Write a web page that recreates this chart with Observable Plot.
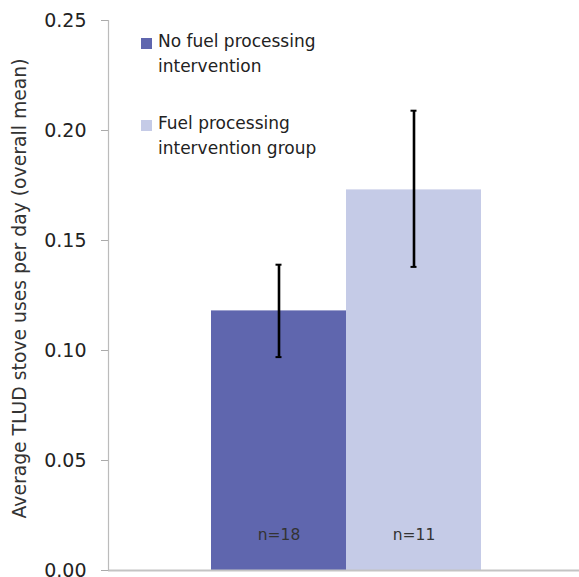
<!DOCTYPE html>
<html>
<head>
<meta charset="utf-8">
<script src="https://cdn.jsdelivr.net/npm/d3@7"></script>
<script src="https://cdn.jsdelivr.net/npm/@observablehq/plot@0.6"></script>
<style>
  html, body { margin: 0; padding: 0; background: #fff; }
  #wrap { position: relative; width: 579px; height: 577px; font-family: "DejaVu Sans", sans-serif; }
  #legend { position: absolute; left: 141px; top: 29px; color: #222; font-size: 17px; line-height: 25px; }
  .item { display: flex; align-items: flex-start; margin-bottom: 32px; }
  .sw { width: 11px; height: 11px; margin-top: 9px; margin-right: 6px; flex: none; }
</style>
</head>
<body>
<div id="wrap"><div id="chart"></div><div id="legend"></div></div>
<script>
const groups = ["No fuel processing intervention", "Fuel processing intervention group"];
const legendLines = [["No fuel processing", "intervention"], ["Fuel processing", "intervention group"]];
const means = [0.118, 0.173];
const errLow = [0.097, 0.138];
const errHigh = [0.139, 0.209];
const nLabels = ["n=18", "n=11"];
const colors = ["#5f66ae", "#c5cbe7"];
const yTicks = [0, 0.05, 0.10, 0.15, 0.20, 0.25];
const yLabel = "Average TLUD stove uses per day (overall mean)";

const data = groups.map((g, i) => ({group: g, mean: means[i], lo: errLow[i], hi: errHigh[i], n: nLabels[i]}));

const chart = Plot.plot({
  width: 579,
  height: 577,
  marginLeft: 108,
  marginRight: 0,
  marginTop: 20,
  marginBottom: 7,
  style: {fontFamily: "'DejaVu Sans', sans-serif", background: "#fff"},
  x: {domain: groups, range: [210, 481], padding: 0, axis: null},
  y: {domain: [0, 0.25]},
  color: {domain: groups, range: colors},
  marks: [
    Plot.barY(data, {x: "group", y: "mean", fill: "group"}),
    Plot.ruleX(data, {x: "group", y1: "lo", y2: "hi", stroke: "#000", strokeWidth: 2.6}),
    Plot.tickY(data, {x: "group", y: "lo", stroke: "#000", strokeWidth: 2, insetLeft: 64.5, insetRight: 64.5}),
    Plot.tickY(data, {x: "group", y: "hi", stroke: "#000", strokeWidth: 2, insetLeft: 64.5, insetRight: 64.5}),
    Plot.text(data, {x: "group", y: 0, text: "n", dy: -31, lineAnchor: "bottom", fontSize: 15.5, fill: "#333"}),
    Plot.ruleY([0], {stroke: "#c4c4c4", strokeWidth: 2}),
    Plot.frame({anchor: "left", stroke: "#bbb", strokeWidth: 1.2}),
    Plot.axisY({
      ticks: yTicks,
      tickFormat: d3.format(".2f"),
      tickSize: 7,
      tickPadding: 15,
      fontSize: 19,
      stroke: "#aaa",
      color: "#222",
      label: null
    }),
    Plot.text([yLabel], {frameAnchor: "left", textAnchor: "middle", rotate: -90, dx: -89, dy: -7, fontSize: 18.8, fill: "#333", text: d => d})
  ]
});
document.getElementById("chart").appendChild(chart);

const legend = document.getElementById("legend");
groups.forEach((g, i) => {
  const item = document.createElement("div");
  item.className = "item";
  const sw = document.createElement("div");
  sw.className = "sw";
  sw.style.background = colors[i];
  const txt = document.createElement("div");
  txt.innerHTML = legendLines[i].join("<br>");
  item.appendChild(sw); item.appendChild(txt);
  legend.appendChild(item);
});
</script>
</body>
</html>
